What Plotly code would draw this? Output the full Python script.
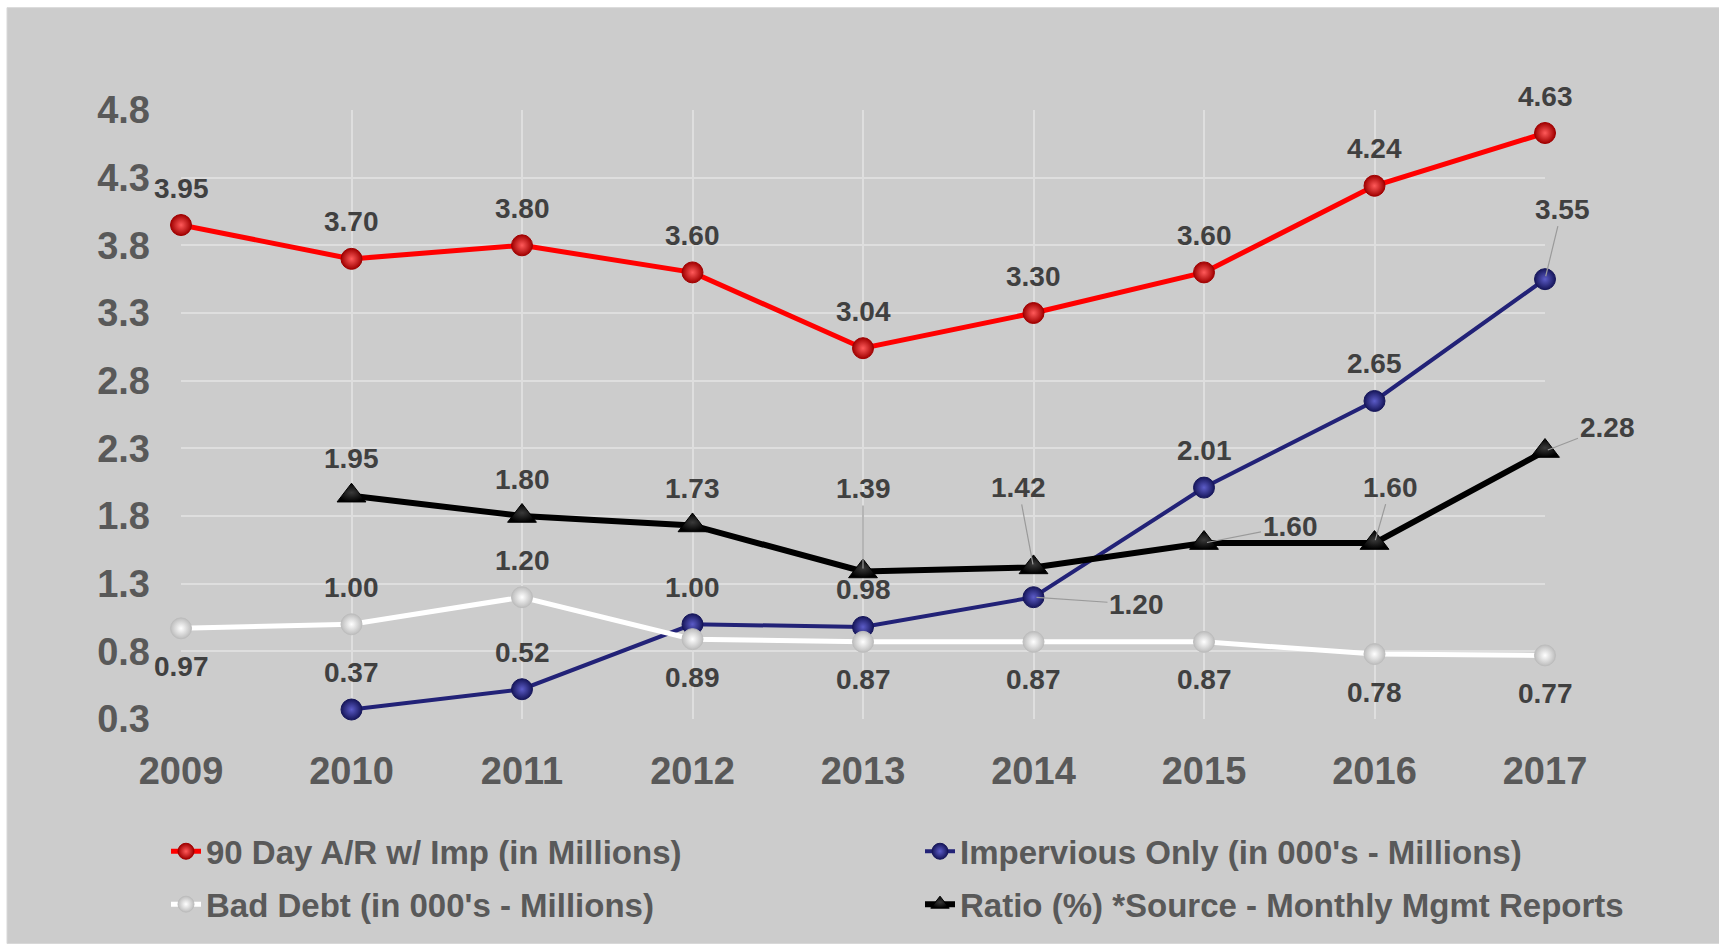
import plotly.graph_objects as go

# ---------------- data ----------------
years = [2009, 2010, 2011, 2012, 2013, 2014, 2015, 2016, 2017]
ar_90day = [3.95, 3.70, 3.80, 3.60, 3.04, 3.30, 3.60, 4.24, 4.63]
impervious = [None, 0.37, 0.52, 1.00, 0.98, 1.20, 2.01, 2.65, 3.55]
bad_debt = [0.97, 1.00, 1.20, 0.89, 0.87, 0.87, 0.87, 0.78, 0.77]
ratio = [None, 1.95, 1.80, 1.73, 1.39, 1.42, 1.60, 1.60, 2.28]
y_ticks = [0.3, 0.8, 1.3, 1.8, 2.3, 2.8, 3.3, 3.8, 4.3, 4.8]

names = {
    "ar": "90 Day A/R w/ Imp (in Millions)",
    "imp": "Impervious Only (in 000's - Millions)",
    "bad": "Bad Debt (in 000's - Millions)",
    "ratio": "Ratio (%) *Source - Monthly Mgmt Reports",
}

# ---------------- layout constants ----------------
W, H = 1719, 944
ML, MR, MT, MB = 181, 174, 110, 221
PW, PH = W - ML - MR, H - MT - MB
BG = "#cccccc"
FONT = "Liberation Sans, Arial, sans-serif"


def px_x(px):
    return (px - ML) / PW


def px_y(py):
    return (H - MB - py) / PH


fig = go.Figure()


def add_series(key, yvals, line_color, edge, center, lw, symbol, msize, legend):
    # radial gradient: marker.color is drawn at the rim, gradient.color at the centre
    fig.add_trace(go.Scatter(
        x=years, y=yvals, name=names[key], mode="lines+markers",
        connectgaps=False, cliponaxis=False,
        line=dict(color=line_color, width=lw),
        marker=dict(symbol=symbol, size=msize, color=edge,
                    gradient=dict(type="radial", color=center),
                    line=dict(color=edge, width=1)),
        legend=legend, legendgroup=key,
    ))


add_series("ar", ar_90day, "#ff0000", "#a00000", "#ff5a5a", 5, "circle", 21, "legend")
add_series("imp", impervious, "#222277", "#16165a", "#5c5cc8", 4, "circle", 21, "legend2")
add_series("bad", bad_debt, "#ffffff", "#bdbdbd", "#ffffff", 5, "circle", 21, "legend")
add_series("ratio", ratio, "#000000", "#000000", "#3a3a3a", 6, "triangle-up", 25, "legend2")

# label placement offsets in pixels (dx, dy; dy negative = above), leader = arrow line
ABOVE, BELOW = (0, -37), (0, 38)
placement = {
    "ar": {y: (ABOVE, False) for y in years},
    "imp": {2010: (ABOVE, False), 2011: (ABOVE, False), 2012: (ABOVE, False),
            2013: (ABOVE, False), 2014: ((103, 7), True), 2015: (ABOVE, False),
            2016: (ABOVE, False), 2017: ((17, -70), True)},
    "bad": {2009: (BELOW, False), 2010: (ABOVE, False), 2011: (ABOVE, False),
            2012: (BELOW, False), 2013: (BELOW, False), 2014: (BELOW, False),
            2015: (BELOW, False), 2016: (BELOW, False), 2017: (BELOW, False)},
    "ratio": {2010: (ABOVE, False), 2011: (ABOVE, False), 2012: (ABOVE, False),
              2013: ((0, -83), True), 2014: ((-15, -80), True), 2015: ((86, -17), True),
              2016: ((16, -56), True), 2017: ((62, -24), True)},
}
series_vals = {"ar": ar_90day, "imp": impervious, "bad": bad_debt, "ratio": ratio}

annotations = []
for key, vals in series_vals.items():
    for yr, v in zip(years, vals):
        if v is None:
            continue
        (dx, dy), leader = placement[key][yr]
        common = dict(x=yr, y=v, xref="x", yref="y", text=f"{v:.2f}",
                      font=dict(family=FONT, size=28, color="#404040", weight="bold"))
        if leader:
            annotations.append(dict(**common, showarrow=True, ax=dx, ay=dy,
                                    axref="pixel", ayref="pixel", arrowhead=0,
                                    arrowwidth=1.2, arrowcolor="#9a9a9a", standoff=3))
        else:
            annotations.append(dict(**common, showarrow=False, xshift=dx, yshift=-dy))

shapes = [dict(type="rect", xref="paper", yref="paper", layer="below",
               x0=px_x(7), x1=px_x(W + 5), y0=px_y(H + 5), y1=px_y(7),
               fillcolor=BG, line=dict(color="#d8d8d8", width=1))]

legend_common = dict(orientation="v", bgcolor="rgba(0,0,0,0)", borderwidth=0,
                     font=dict(family=FONT, size=33, color="#595959", weight="bold"),
                     tracegroupgap=7, xanchor="left", yanchor="top", itemwidth=30)

fig.update_layout(
    width=W, height=H,
    margin=dict(l=ML, r=MR, t=MT, b=MB, pad=0),
    paper_bgcolor="#ffffff", plot_bgcolor="rgba(0,0,0,0)",
    font=dict(family=FONT, color="#595959"),
    shapes=shapes, annotations=annotations,
    showlegend=True,
    legend=dict(**legend_common, x=px_x(166), y=px_y(828)),
    legend2=dict(**legend_common, x=px_x(920), y=px_y(828)),
    xaxis=dict(range=[2009, 2017], tickvals=years, ticktext=[str(y) for y in years],
               showgrid=True, gridcolor="#dedede", gridwidth=1.5, zeroline=False,
               showline=False, ticks="", ticklabelstandoff=26,
               tickfont=dict(family=FONT, size=38, color="#595959", weight="bold")),
    yaxis=dict(range=[0.3, 4.8], tickvals=y_ticks, ticktext=[f"{t:.1f}" for t in y_ticks],
               showgrid=True, gridcolor="#dedede", gridwidth=1.5, zeroline=False,
               showline=False, ticks="", ticklabelstandoff=30,
               tickfont=dict(family=FONT, size=38, color="#595959", weight="bold")),
)

fig.write_html("out.html")
